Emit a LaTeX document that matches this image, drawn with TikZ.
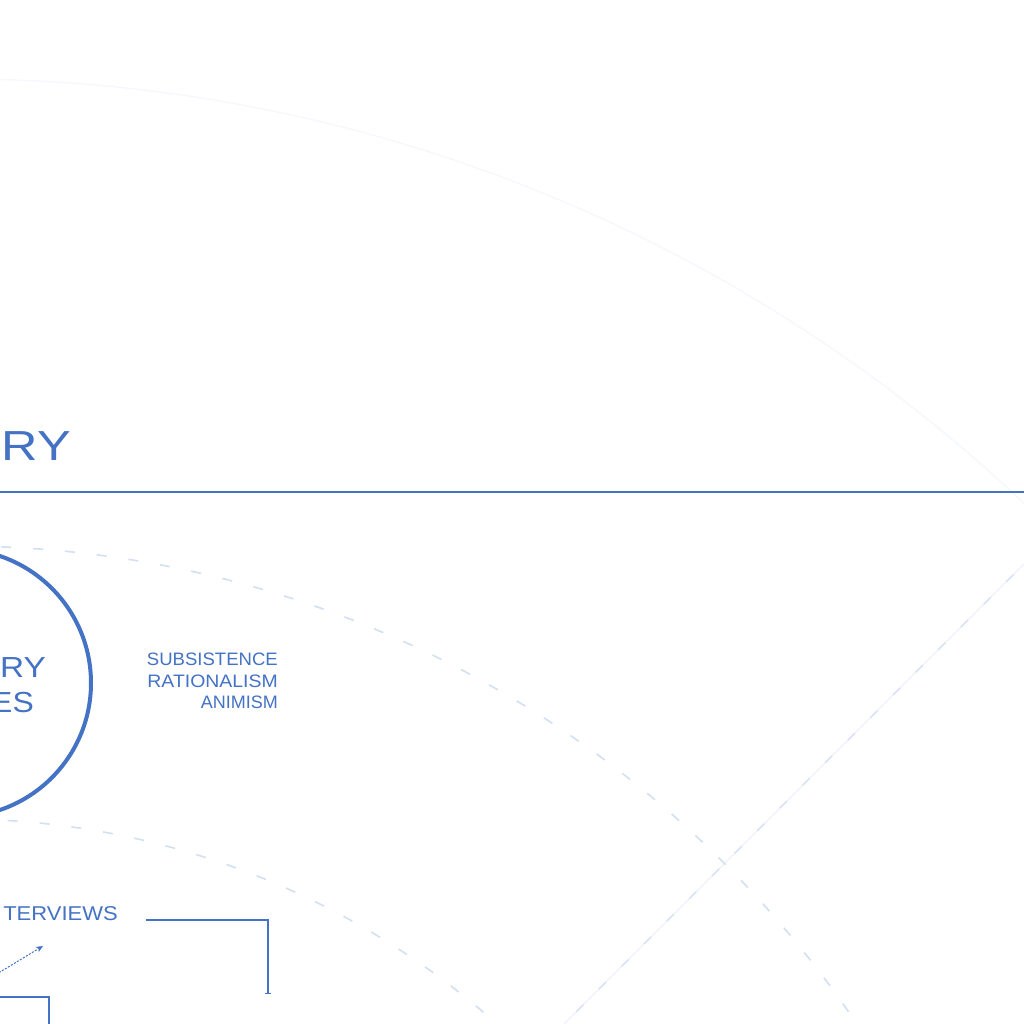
\documentclass[tikz,border=0pt]{standalone}
\usepackage{fontspec}
\setmainfont{Liberation Sans}
\usetikzlibrary{arrows.meta,calc}
\definecolor{ink}{HTML}{4472C4}
\definecolor{faint}{HTML}{F4F7FC}
\definecolor{faintb}{HTML}{EEF2FA}
\definecolor{dashc}{HTML}{D3E0F1}
\tikzset{
  lbl/.style={inner sep=0pt, text=ink, anchor=base east},
  guide/.style={draw=faint, line width=1.2pt},
  dashguide/.style={draw=dashc, line width=1.6pt, dash pattern=on 10pt off 22pt},
  wire/.style={draw=ink, line width=1.5pt},
}
\begin{document}
\begin{tikzpicture}[x=1pt,y=-1pt]
\useasboundingbox (0,0) rectangle (1024,1024);
\fill[white] (0,0) rectangle (1024,1024);
\clip (0,0) rectangle (1024,1024);
\coordinate (ctr) at (-42,1630);
% faint outer arc
\draw[guide] (ctr) circle[radius=1551];
% radial line
\coordinate (radA) at ($(ctr)+(573,-573)$);
\coordinate (radB) at ($(ctr)+(1097,-1097)$);
\draw[draw=faintb, line width=1.2pt] (radA) -- (radB);
\draw[dashguide, line width=1.3pt] (radA) -- (radB);
% dashed arcs
\draw[dashguide] (ctr) circle[radius=1084];
\draw[dashguide] (ctr) circle[radius=811];
% horizontal rule
\coordinate (ruleL) at (0,492);
\coordinate (ruleR) at (1024,492);
\draw[ink, line width=2.5pt] (ruleL) -- (ruleR);
% top partial heading
\node[lbl, font=\fontsize{42}{48}\selectfont, xscale=1.2] (head) at (71,460) {RY};
% circle node
\node[circle, draw=ink, line width=4pt, minimum size=268pt, inner sep=0pt] (core) at (-43,683) {};
\node[lbl, font=\fontsize{29}{34}\selectfont, xscale=1.15] (coreA) at (46,677) {RY};
\node[lbl, font=\fontsize{29}{34}\selectfont, xscale=1.1] (coreB) at (34,712) {ES};
% labels
\node[lbl, font=\fontsize{18}{21}\selectfont, xscale=1.03] (l1) at (278,665) {SUBSISTENCE};
\node[lbl, font=\fontsize{18}{21}\selectfont, xscale=1.08] (l2) at (278,687) {RATIONALISM};
\node[lbl, font=\fontsize{18}{21}\selectfont] (l3) at (278,708) {ANIMISM};
% interviews
\node[lbl, font=\fontsize{20}{24}\selectfont, xscale=1.1] (intv) at (118,920) {TERVIEWS};
\coordinate (wireA) at (146,920);
\coordinate (wireB) at (268,994);
\draw[wire, -{Bar[width=6pt,line width=1pt]}] (wireA) -| (wireB);
% dotted arrow
\coordinate (dotA) at (-10,978);
\coordinate (dotB) at (43,946);
\draw[ink, line width=1pt, dash pattern=on 2pt off 1.5pt, -{Stealth[length=7pt,width=6pt]}] (dotA) -- (dotB);
% partial box
\node[draw=ink, line width=1.6pt, rectangle, minimum width=200pt, minimum height=100pt, anchor=north east] (box) at (50,996) {};
\end{tikzpicture}
\end{document}
